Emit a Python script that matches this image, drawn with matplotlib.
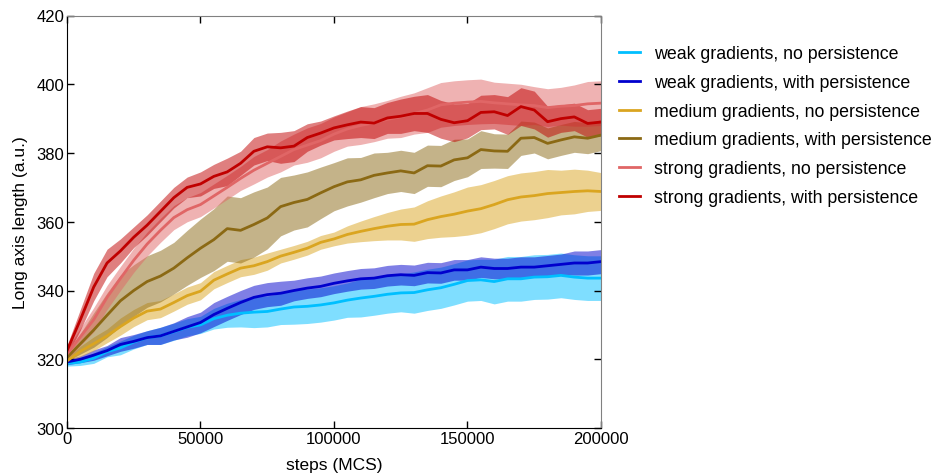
import numpy as np
import matplotlib
matplotlib.use("Agg")
import matplotlib.pyplot as plt

plt.rcParams['font.family'] = ['Liberation Sans', 'DejaVu Sans']

steps = np.arange(0, 200001, 5000)

weak_no = [318.8, 319.2, 320.3, 322.2, 323.3, 325.0, 326.3, 326.8, 328.0, 329.3, 330.0,
           331.8, 332.8, 333.4, 333.7, 333.9, 334.6, 335.2, 335.4, 335.8, 336.4,
           337.2, 337.8, 338.3, 338.9, 339.3, 339.4, 340.2, 340.8, 341.8, 342.9,
           343.1, 342.6, 343.4, 343.4, 343.9, 344.0, 344.4, 343.9, 343.6, 343.6]
weak_no_sd = [0.8, 1.0, 1.5, 1.5, 2.0, 2.0, 2.0, 2.5, 2.5, 2.5, 2.5,
              3.0, 3.5, 4.0, 4.5, 4.5, 4.5, 5.0, 5.0, 5.0, 5.0,
              5.0, 5.5, 5.5, 5.5, 5.5, 6.0, 6.0, 6.0, 6.0, 6.0,
              6.0, 6.5, 6.5, 6.5, 6.5, 6.5, 6.5, 6.5, 6.5, 6.5]

weak_with = [319.2, 320.0, 321.2, 322.5, 324.3, 325.2, 326.3, 326.8, 328.1, 329.4, 330.7,
             333.0, 334.8, 336.5, 338.0, 338.8, 339.2, 340.0, 340.7, 341.2, 342.1,
             342.8, 343.4, 343.6, 344.3, 344.6, 344.4, 345.2, 345.1, 346.0, 346.0,
             346.8, 346.4, 346.4, 346.8, 346.8, 347.2, 347.6, 348.0, 348.0, 348.4]
weak_with_sd = [0.8, 1.0, 1.5, 1.5, 2.0, 2.0, 2.0, 2.5, 2.5, 3.0, 3.0,
                3.5, 3.5, 3.5, 3.5, 3.5, 3.5, 3.0, 3.0, 3.0, 3.0,
                3.0, 3.0, 3.0, 3.0, 3.0, 3.0, 3.0, 3.0, 3.0, 3.0,
                3.0, 3.0, 3.0, 3.0, 3.0, 3.0, 3.0, 3.5, 3.5, 3.5]

medium_no = [319.5, 322.3, 324.5, 326.8, 329.5, 332.0, 334.0, 334.6, 336.5, 338.5, 339.8,
             343.0, 344.8, 346.5, 347.2, 348.4, 350.0, 351.1, 352.3, 354.0, 355.0,
             356.3, 357.2, 358.0, 358.7, 359.2, 359.3, 360.6, 361.5, 362.2, 363.1,
             363.8, 365.0, 366.4, 367.2, 367.6, 368.2, 368.5, 368.8, 369.0, 368.8]
medium_no_sd = [1.0, 1.5, 2.0, 2.0, 2.5, 2.5, 2.5, 2.5, 2.5, 2.5, 2.5,
                2.5, 2.5, 2.5, 2.5, 2.5, 2.0, 2.0, 2.0, 2.0, 2.0,
                2.5, 3.0, 3.5, 4.0, 4.5, 5.0, 5.5, 6.0, 6.5, 7.0,
                7.0, 7.0, 7.0, 7.0, 7.0, 7.0, 6.5, 6.5, 6.0, 5.5]

medium_with = [320.5, 324.5, 328.5, 332.8, 337.0, 340.0, 342.6, 344.2, 346.5, 349.5, 352.3,
               354.8, 358.0, 357.5, 359.2, 361.1, 364.4, 365.6, 366.5, 368.4, 370.2,
               371.6, 372.2, 373.5, 374.2, 374.8, 374.2, 376.3, 376.2, 378.0, 378.6,
               381.0, 380.6, 380.5, 384.3, 384.5, 382.8, 383.8, 384.7, 384.3, 385.2]
medium_with_sd = [1.0, 3.0, 5.0, 6.5, 7.5, 7.5, 7.5, 7.5, 7.5, 8.0, 8.5,
                  9.0, 9.5, 9.5, 9.5, 9.0, 8.5, 8.0, 8.0, 7.5, 7.0,
                  7.0, 6.5, 6.5, 6.0, 6.0, 6.0, 6.0, 6.0, 6.0, 5.5,
                  5.5, 5.0, 5.0, 5.0, 4.5, 4.5, 4.5, 4.5, 4.5, 4.5]

strong_no = [321.5, 326.5, 331.5, 338.0, 343.5, 348.8, 353.5, 357.5, 361.2, 363.5, 365.0,
             367.5, 370.0, 372.6, 375.0, 377.0, 379.0, 381.0, 382.3, 383.6, 385.5,
             387.0, 388.0, 388.8, 389.8, 390.5, 391.5, 392.5, 394.0, 394.5, 394.8,
             395.0, 394.6, 394.3, 394.0, 393.8, 393.2, 393.6, 393.8, 394.3, 394.5]
strong_no_sd = [1.5, 2.5, 3.5, 3.5, 3.5, 3.5, 3.5, 3.5, 3.5, 3.5, 3.5,
                3.5, 3.5, 3.5, 4.0, 4.0, 4.5, 4.5, 5.0, 5.0, 5.0,
                5.0, 5.5, 5.5, 5.5, 6.0, 6.0, 6.5, 6.5, 6.5, 6.5,
                6.5, 6.0, 6.0, 6.0, 5.5, 5.5, 5.5, 6.0, 6.5, 6.5]

strong_with = [322.5, 331.5, 341.0, 348.0, 351.5, 355.5, 359.0, 363.0, 367.0, 370.0, 371.0,
               373.2, 374.5, 377.0, 380.5, 381.8, 381.5, 382.0, 384.5, 385.8, 387.3,
               388.2, 389.0, 388.7, 390.2, 390.7, 391.5, 391.5, 389.8, 388.8, 389.4,
               391.8, 392.0, 390.9, 393.5, 392.5, 389.1, 390.0, 390.5, 388.6, 389.0]
strong_with_sd = [1.5, 3.0, 4.0, 4.0, 3.5, 3.0, 3.0, 3.0, 3.0, 3.0, 3.5,
                  3.5, 4.0, 3.5, 4.0, 4.0, 4.5, 4.5, 4.0, 3.5, 3.5,
                  4.0, 4.5, 4.5, 4.5, 5.0, 5.0, 5.5, 5.5, 5.5, 5.0,
                  5.0, 5.0, 5.5, 5.5, 5.5, 4.5, 4.0, 4.0, 4.0, 4.0]

labels = ["weak gradients, no persistence", "weak gradients, with persistence",
          "medium gradients, no persistence", "medium gradients, with persistence",
          "strong gradients, no persistence", "strong gradients, with persistence"]
colors = ["#00bfff", "#0000cd", "#daa520", "#8b6914", "#e06666", "#c00000"]
means = [weak_no, weak_with, medium_no, medium_with, strong_no, strong_with]
spreads = [weak_no_sd, weak_with_sd, medium_no_sd, medium_with_sd, strong_no_sd, strong_with_sd]

fig = plt.figure(figsize=(9.39, 4.77), dpi=100)
ax = fig.add_axes([67 / 939, 48 / 477, 534 / 939, 412.5 / 477])

for m, s, c, lab in zip(means, spreads, colors, labels):
    m = np.array(m)
    s = np.array(s)
    ax.fill_between(steps, m - s, m + s, color=c, alpha=0.5, linewidth=0)
    ax.plot(steps, m, color=c, lw=2, label=lab)

ax.set_xlim(0, 200000)
ax.set_ylim(300, 420)
ax.set_xticks([0, 50000, 100000, 150000, 200000])
ax.set_yticks(range(300, 421, 20))
ax.tick_params(direction='in', length=5, width=1, labelsize=12, top=True, right=True, pad=2)
for side in ['left', 'bottom']:
    ax.spines[side].set_color('black')
for side in ['top', 'right']:
    ax.spines[side].set_color('#808080')
ax.set_xlabel("steps (MCS)", fontsize=12.5, labelpad=8)
ax.set_ylabel("Long axis length (a.u.)", fontsize=12.5, labelpad=6)

ax.legend(loc='upper left', bbox_to_anchor=(1.02, 0.945), frameon=False, fontsize=12.8,
          handlelength=1.2, handletextpad=0.8, labelspacing=0.66, borderaxespad=0)

fig.savefig("out.png", dpi=100)
